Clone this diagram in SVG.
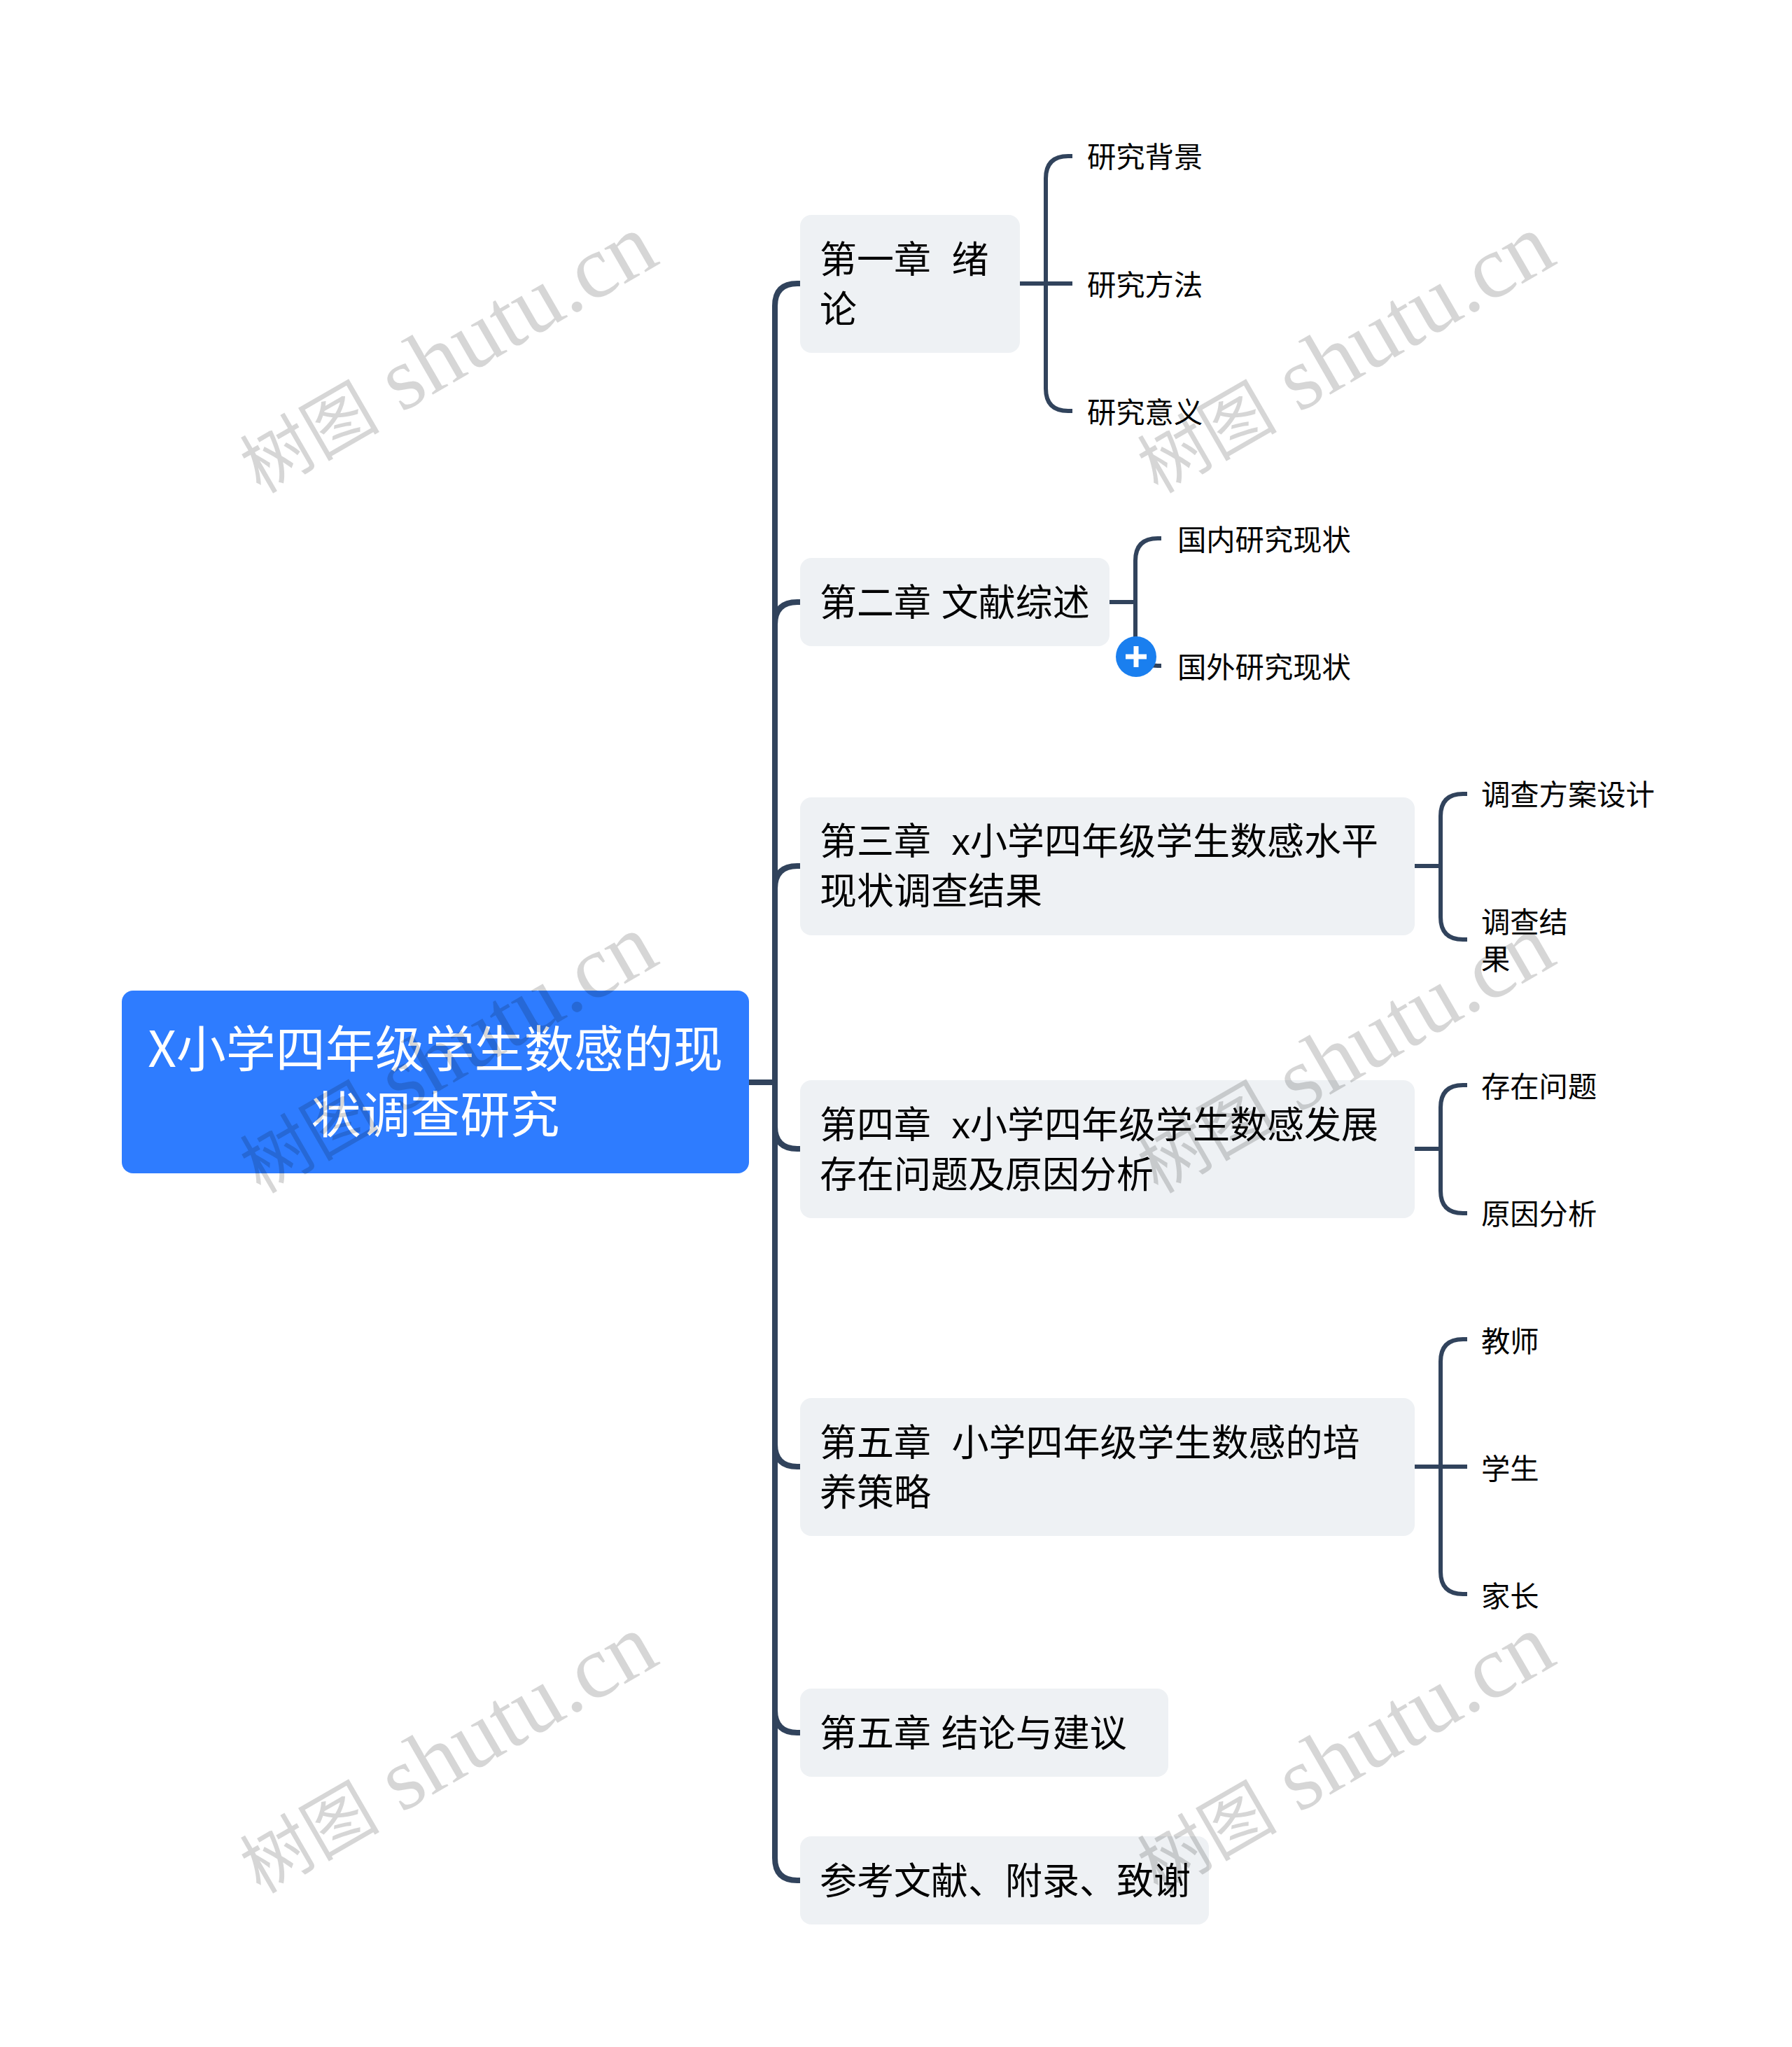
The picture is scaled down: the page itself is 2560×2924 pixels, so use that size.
<svg xmlns="http://www.w3.org/2000/svg" width="2560" height="2924" viewBox="0 0 2560 2924">
<style>
text{font-family:"Liberation Sans","Noto Sans CJK SC",sans-serif;fill:#000}
.bg{fill:#eef1f4}
.t2{font-size:53px}
.t3{font-size:41.3px}
.root{fill:#2e7cff}
text.t1{font-family:"Noto Sans CJK SC",sans-serif;font-size:71px;fill:#fff;text-anchor:middle}
.c{fill:none;stroke:#31435c;stroke-width:6}
.m{fill:none;stroke:#31435c;stroke-width:8}
text.wm{font-family:"Liberation Serif","Noto Sans CJK SC",serif;font-size:128px;fill:#000;fill-opacity:.16}
.wc{font-size:100px}
</style>
<rect width="2560" height="2924" fill="#fff"/>
<g id="connectors">
<path class="m" d="M1070 1546H1107"/>
<path class="m" d="M1143 405H1139Q1107 405 1107 437V2654Q1107 2686 1139 2686H1143"/>
<path class="m" d="M1143 860H1139Q1107 860 1107 892"/>
<path class="m" d="M1143 1237H1139Q1107 1237 1107 1269"/>
<path class="m" d="M1143 1641H1139Q1107 1641 1107 1609"/>
<path class="m" d="M1143 2095H1139Q1107 2095 1107 2063"/>
<path class="m" d="M1143 2475H1139Q1107 2475 1107 2443"/>
<path class="c" d="M1532 223H1526Q1494 223 1494 255V555Q1494 587 1526 587H1532M1457 405H1532"/>
<path class="c" d="M1659 769H1654Q1622 769 1622 801V919Q1622 951 1654 951H1659M1585 860H1622"/>
<path class="c" d="M2096 1134H2090Q2058 1134 2058 1166V1310Q2058 1342 2090 1342H2096M2021 1237H2058"/>
<path class="c" d="M2096 1550H2090Q2058 1550 2058 1582V1701Q2058 1733 2090 1733H2096M2021 1641H2058"/>
<path class="c" d="M2096 1913H2090Q2058 1913 2058 1945V2245Q2058 2277 2090 2277H2096M2021 2095H2096"/>
</g>
<g id="root"><rect class="root" x="174" y="1415" width="896" height="261" rx="16"/><text class="t1" x="622" y="1524">X小学四年级学生数感的现</text><text class="t1" x="622" y="1618">状调查研究</text></g>
<g id="n1"><rect class="bg" x="1143" y="307" width="314" height="197" rx="16"/><text class="t2" x="1171" y="390" xml:space="preserve">第一章  绪</text><text class="t2" x="1171" y="461">论</text></g>
<g id="n2"><rect class="bg" x="1143" y="797" width="442" height="126" rx="16"/><text class="t2" x="1171" y="880" xml:space="preserve">第二章 文献综述</text></g>
<g id="n3"><rect class="bg" x="1143" y="1139" width="878" height="197" rx="16"/><text class="t2" x="1171" y="1221" xml:space="preserve">第三章  x小学四年级学生数感水平</text><text class="t2" x="1171" y="1292">现状调查结果</text></g>
<g id="n4"><rect class="bg" x="1143" y="1543" width="878" height="197" rx="16"/><text class="t2" x="1171" y="1626" xml:space="preserve">第四章  x小学四年级学生数感发展</text><text class="t2" x="1171" y="1697">存在问题及原因分析</text></g>
<g id="n5"><rect class="bg" x="1143" y="1997" width="878" height="197" rx="16"/><text class="t2" x="1171" y="2080" xml:space="preserve">第五章  小学四年级学生数感的培</text><text class="t2" x="1171" y="2151">养策略</text></g>
<g id="n6"><rect class="bg" x="1143" y="2412" width="526" height="126" rx="16"/><text class="t2" x="1171" y="2495" xml:space="preserve">第五章 结论与建议</text></g>
<g id="n7"><rect class="bg" x="1143" y="2623" width="584" height="126" rx="16"/><text class="t2" x="1171" y="2706">参考文献、附录、致谢</text></g>
<g id="n1-1"><text class="t3" x="1553" y="239">研究背景</text></g>
<g id="n1-2"><text class="t3" x="1553" y="422">研究方法</text></g>
<g id="n1-3"><text class="t3" x="1553" y="604">研究意义</text></g>
<g id="n2-1"><text class="t3" x="1682" y="786">国内研究现状</text></g>
<g id="n2-2"><text class="t3" x="1682" y="968">国外研究现状</text></g>
<g id="n3-1"><text class="t3" x="2116" y="1150">调查方案设计</text></g>
<g id="n3-2"><text class="t3" x="2116" y="1332">调查结</text><text class="t3" x="2116" y="1385">果</text></g>
<g id="n4-1"><text class="t3" x="2116" y="1567">存在问题</text></g>
<g id="n4-2"><text class="t3" x="2116" y="1749">原因分析</text></g>
<g id="n5-1"><text class="t3" x="2116" y="1931">教师</text></g>
<g id="n5-2"><text class="t3" x="2116" y="2113">学生</text></g>
<g id="n5-3"><text class="t3" x="2116" y="2295">家长</text></g>
<g id="toggle"><circle cx="1623" cy="938" r="29" fill="#1a7fef"/><path d="M1608 938H1638M1623 923V953" stroke="#fff" stroke-width="7" fill="none"/></g>
<g id="watermarks">
<text class="wm" transform="translate(372 706) rotate(-30)"><tspan class="wc">树图</tspan> shutu.cn</text>
<text class="wm" transform="translate(1654 706) rotate(-30)"><tspan class="wc">树图</tspan> shutu.cn</text>
<text class="wm" transform="translate(372 1706) rotate(-30)"><tspan class="wc">树图</tspan> shutu.cn</text>
<text class="wm" transform="translate(1654 1706) rotate(-30)"><tspan class="wc">树图</tspan> shutu.cn</text>
<text class="wm" transform="translate(372 2706) rotate(-30)"><tspan class="wc">树图</tspan> shutu.cn</text>
<text class="wm" transform="translate(1654 2706) rotate(-30)"><tspan class="wc">树图</tspan> shutu.cn</text>
</g>
</svg>
